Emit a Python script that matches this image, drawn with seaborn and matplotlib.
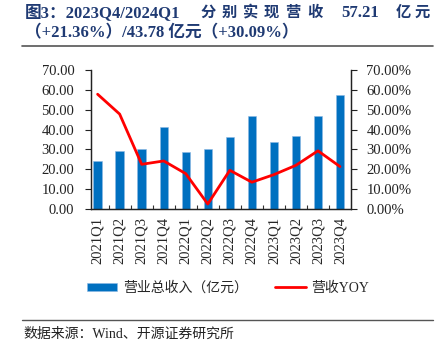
import numpy as np
import pandas as pd
import matplotlib
matplotlib.use("Agg")
import matplotlib.pyplot as plt
import seaborn as sns
from matplotlib.ticker import FixedLocator, FuncFormatter

quarters = ["2021Q1", "2021Q2", "2021Q3", "2021Q4",
            "2022Q1", "2022Q2", "2022Q3", "2022Q4",
            "2023Q1", "2023Q2", "2023Q3", "2023Q4"]
revenue = [24.0, 29.2, 30.3, 41.2, 28.5, 30.0, 36.2, 47.0, 33.5, 36.7, 47.0, 57.21]
yoy = [57.8, 47.8, 22.5, 24.2, 17.8, 2.5, 19.5, 13.5, 17.3, 22.0, 29.3, 21.36]

sns.set_theme(style="white")
fonts = ["Liberation Serif", "Noto Sans CJK SC", "DejaVu Sans"]
plt.rcParams["font.family"] = fonts

df = pd.DataFrame({"quarter": quarters, "revenue": revenue, "yoy": yoy})
df["pos"] = np.arange(len(df))

fig = plt.figure(figsize=(4.47, 3.52), dpi=100)
ax = fig.add_axes([91 / 447, 1 - 209 / 352, 260 / 447, 139 / 352])

sns.barplot(data=df, x="quarter", y="revenue", color="#0070C0", saturation=1,
            width=0.38, edgecolor="#8DB8E3", linewidth=0.4, ax=ax,
            label="营业总收入（亿元）")
xlim = (-0.3, len(df) - 0.5)
ax.set_xlim(*xlim)
ax.set_ylim(0, 70)
ax.set_yticks(np.arange(0, 71, 10))
ax.yaxis.set_major_formatter(FuncFormatter(lambda v, p: f"{v:.2f}"))
ax.set_xlabel("")
ax.set_ylabel("")
ax.tick_params(axis="x", length=0, labelrotation=90, labelsize=10.5, pad=6)
ax.tick_params(axis="y", direction="out", length=4, width=0.8, colors="#222222",
               labelsize=10.5, pad=8, left=True)
ax.xaxis.set_minor_locator(FixedLocator(np.arange(0.5, len(df) - 0.5, 1)))
ax.tick_params(axis="x", which="minor", direction="in", length=3, width=0.8,
               bottom=True, color="#333333")

ax2 = ax.twinx()
sns.lineplot(data=df, x="pos", y="yoy", color="#FF0000", linewidth=2, ax=ax2,
             label="营收YOY", legend=False)
ax2.set_ylim(0, 70)
ax2.set_yticks(np.arange(0, 71, 10))
ax2.yaxis.set_major_formatter(FuncFormatter(lambda v, p: f"{v:.2f}%"))
ax2.set_ylabel("")
ax2.tick_params(axis="y", direction="out", length=4, width=0.8, colors="#222222",
                labelsize=10.5, pad=7, right=True)
ax2.set_xlim(*xlim)

for a in (ax, ax2):
    a.spines["top"].set_visible(False)
    for s in ("left", "right", "bottom"):
        a.spines[s].set_color("#222222")
        a.spines[s].set_linewidth(0.9)
    a.grid(False)

h1, l1 = ax.get_legend_handles_labels()
h2, l2 = ax2.get_legend_handles_labels()
leg = fig.legend(h1 + h2, l1 + l2, loc="center", bbox_to_anchor=(228 / 447, 1 - 288 / 352),
                 ncol=2, frameon=False, fontsize=10, handlelength=2.2, handleheight=0.45,
                 columnspacing=2.0, handletextpad=0.4)
if ax.get_legend():
    ax.get_legend().remove()

# title, first line laid out in pieces to mimic the justified spacing
title_color = "#1F3A73"
ty1 = 1 - 13 / 352
tkw = dict(fontsize=12, fontweight="bold", color=title_color, va="center", ha="left")
fig.text(25 / 447, ty1, "图3：2023Q4/2024Q1", **tkw)
for ch, x in zip("分别实现营收", [201, 222, 243, 264, 285, 307]):
    fig.text(x / 447, ty1, ch, **{**tkw, "fontsize": 11})
fig.text(341 / 447, ty1, "57.21", **tkw)
fig.text(396 / 447, ty1, "亿", **{**tkw, "fontsize": 11})
fig.text(415 / 447, ty1, "元", **{**tkw, "fontsize": 11})
fig.text(25 / 447, 1 - 33 / 352, "（+21.36%）/43.78 亿元（+30.09%）", **tkw)

fig.add_artist(plt.Line2D([22 / 447, 433 / 447], [1 - 46 / 352, 1 - 46 / 352],
                          color="#555555", linewidth=1.2))
fig.add_artist(plt.Line2D([22 / 447, 433 / 447], [1 - 320 / 352, 1 - 320 / 352],
                          color="#555555", linewidth=1.0))
fig.text(23 / 447, 1 - 334 / 352, "数据来源：Wind、开源证券研究所",
         fontsize=10, color="#222222", va="center", ha="left")

fig.savefig("out.png", dpi=100)
